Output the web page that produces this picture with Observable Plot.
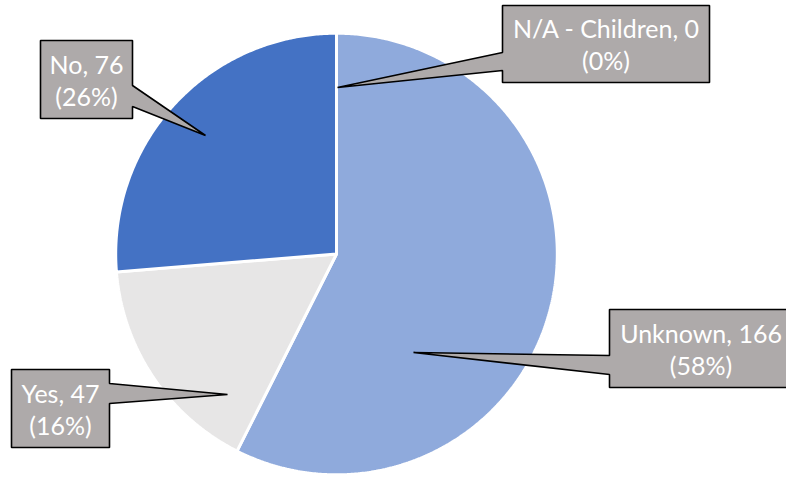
<!DOCTYPE html>
<html>
<head>
<meta charset="utf-8">
<script src="https://cdn.jsdelivr.net/npm/d3@7"></script>
<script src="https://cdn.jsdelivr.net/npm/@observablehq/plot@0.6"></script>
<style>
  html, body { margin: 0; padding: 0; background: #fff; }
</style>
</head>
<body>
<div id="chart"></div>
<script>
// ---- data ----
const categories = ["N/A - Children", "Unknown", "Yes", "No"];
const counts = [0, 166, 47, 76];
const percentLabels = ["0%", "58%", "16%", "26%"];
const colors = ["#A5A5A5", "#8FAADC", "#E7E6E6", "#4472C4"];

// ---- layout (label callouts, in pixels) ----
const W = 786, H = 477;
const cx = 336, cy = 253.5, R = 220.8;
const callouts = [
  {box: [502, 5, 709, 82], side: "left", base: [52, 70], tip: [337, 87]},
  {box: [609, 309, 792, 387], side: "left", base: [355, 374], tip: [413, 352]},
  {box: [11, 369, 109, 447], side: "right", base: [383, 403], tip: [227, 394]},
  {box: [40, 40, 132, 118], side: "right", base: [85, 106], tip: [205, 135]}
];

const pie = d3.pie().sort(null).value(d => d)(counts);
const slicePts = [];
pie.forEach((p, i) => {
  if (p.endAngle - p.startAngle <= 0) return;
  slicePts.push({k: i, x: cx, y: cy, c: colors[i]});
  const n = Math.max(2, Math.ceil((p.endAngle - p.startAngle) * 120));
  for (let j = 0; j <= n; j++) {
    const a = p.startAngle + (p.endAngle - p.startAngle) * j / n;
    slicePts.push({k: i, x: cx + R * Math.sin(a), y: cy - R * Math.cos(a), c: colors[i]});
  }
});

const calloutPts = [];
callouts.forEach((c, i) => {
  const [x1, y1, x2, y2] = c.box;
  let pts;
  if (c.side === "left") {
    pts = [[x1, y1], [x2, y1], [x2, y2], [x1, y2], [x1, c.base[1]], c.tip, [x1, c.base[0]]];
  } else {
    pts = [[x1, y1], [x2, y1], [x2, c.base[0]], c.tip, [x2, c.base[1]], [x2, y2], [x1, y2]];
  }
  pts.forEach(p => calloutPts.push({k: i, x: p[0], y: p[1]}));
});

const labels = categories.map((c, i) => ({
  x: (callouts[i].box[0] + callouts[i].box[2]) / 2,
  y: (callouts[i].box[1] + callouts[i].box[3]) / 2,
  text: `${c}, ${counts[i]}\n(${percentLabels[i]})`
}));

const chart = Plot.plot({
  width: W, height: H, margin: 0,
  x: {domain: [0, W], range: [0, W], axis: null},
  y: {domain: [0, H], range: [0, H], axis: null},
  color: {type: "identity"},
  style: {background: "white", overflow: "visible"},
  marks: [
    Plot.line(slicePts, {x: "x", y: "y", z: "k", fill: "c", stroke: "white", strokeWidth: 3, curve: "linear-closed", strokeLinejoin: "miter"}),
    Plot.line(calloutPts, {x: "x", y: "y", z: "k", fill: "#AEAAAA", stroke: "black", strokeWidth: 1.6, curve: "linear-closed", strokeLinejoin: "miter"}),
    Plot.text(labels, {x: "x", y: "y", text: "text", fill: "white", fontSize: 25, lineHeight: 1.28, fontFamily: "Lato", textAnchor: "middle", frameAnchor: "middle"})
  ]
});
document.getElementById("chart").appendChild(chart);
</script>
</body>
</html>
